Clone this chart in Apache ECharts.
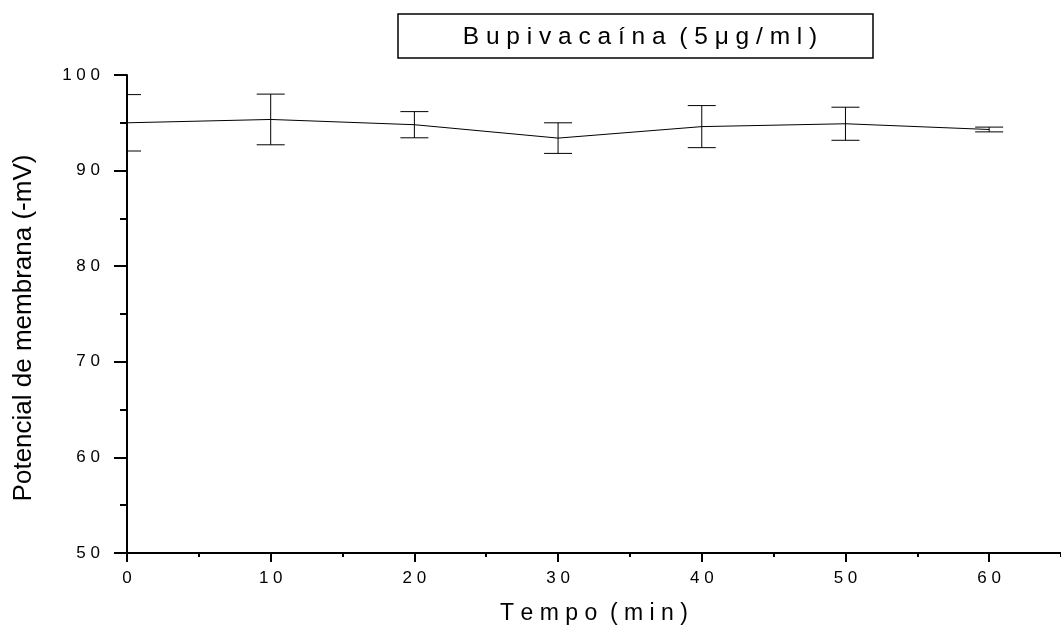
<!DOCTYPE html>
<html>
<head>
<meta charset="utf-8">
<title>Bupivacaína (5μg/ml)</title>
<script src="https://cdn.jsdelivr.net/npm/echarts@6/dist/echarts.min.js"></script>
<style>
  html, body { margin: 0; padding: 0; background: #fff; }
  #chart { width: 1061px; height: 631px; }
</style>
</head>
<body>
<div id="chart"></div>
<script>
// Membrane potential over time under bupivacaine (mean ± error)
const tempo = [0, 10, 20, 30, 40, 50, 60];
const potencial = [95.0, 95.35, 94.8, 93.4, 94.6, 94.9, 94.3];
const erro = [2.95, 2.65, 1.37, 1.6, 2.2, 1.73, 0.25];

const titulo = 'B u p i v a c a í n a  ( 5 μ g / m l )';
const tituloX = 'T e m p o  ( m i n )';
const tituloY = 'Potencial de membrana (-mV)';

const FONT = '"Liberation Sans", Arial, Helvetica, sans-serif';
const spaced = v => String(v).split('').join(' ');

const linePoints = tempo.map((t, i) => [t, potencial[i]]);
const barPoints = tempo.map((t, i) => [t, potencial[i] - erro[i], potencial[i] + erro[i]]);

const chart = echarts.init(document.getElementById('chart'));

const axisBlack = { lineStyle: { color: '#000', width: 2 } };

chart.setOption({
  backgroundColor: '#fff',
  animation: false,
  grid: { left: 127, right: -7, top: 75, bottom: 78, containLabel: false },
  graphic: [
    {
      type: 'rect',
      shape: { x: 398, y: 14, width: 475, height: 44 },
      style: { fill: '#fff', stroke: '#000', lineWidth: 1.5 }
    },
    {
      type: 'text',
      x: 640, y: 37,
      style: {
        text: titulo, font: '24.5px ' + FONT, fill: '#000',
        align: 'center', verticalAlign: 'middle'
      }
    }
  ],
  xAxis: [
    {
      type: 'value', min: 0, max: 65, interval: 10,
      name: tituloX, nameLocation: 'middle', nameGap: 49,
      nameTextStyle: { fontFamily: FONT, fontSize: 23, color: '#000' },
      axisLine: axisBlack,
      axisTick: { show: true, length: 9, lineStyle: { color: '#000', width: 2 } },
      axisLabel: {
        margin: 17, color: '#000', fontFamily: FONT, fontSize: 17,
        showMaxLabel: false, formatter: spaced
      },
      splitLine: { show: false }
    },
    {
      type: 'value', min: 0, max: 65, interval: 5, position: 'bottom',
      axisLine: { show: false },
      axisTick: { show: true, length: 4, lineStyle: { color: '#000', width: 2 } },
      axisLabel: { show: false },
      splitLine: { show: false }
    }
  ],
  yAxis: [
    {
      type: 'value', min: 50, max: 100, interval: 10,
      name: tituloY, nameLocation: 'middle', nameGap: 90, nameRotate: 90,
      nameTextStyle: { fontFamily: FONT, fontSize: 26, color: '#000', padding: [0, 28, 0, 0] },
      axisLine: axisBlack,
      axisTick: { show: true, length: 13, lineStyle: { color: '#000', width: 2 } },
      axisLabel: { margin: 27, color: '#000', fontFamily: FONT, fontSize: 17, formatter: spaced },
      splitLine: { show: false }
    },
    {
      type: 'value', min: 50, max: 100, interval: 5, position: 'left',
      axisLine: { show: false },
      axisTick: { show: true, length: 7, lineStyle: { color: '#000', width: 2 } },
      axisLabel: { show: false },
      splitLine: { show: false }
    }
  ],
  series: [
    {
      type: 'line',
      xAxisIndex: 0, yAxisIndex: 0,
      data: linePoints,
      showSymbol: false,
      lineStyle: { color: '#000', width: 1 },
      clip: true,
      z: 2
    },
    {
      type: 'custom',
      xAxisIndex: 0, yAxisIndex: 0,
      data: barPoints,
      clip: true,
      z: 3,
      renderItem: function (params, api) {
        const x = api.value(0);
        const lo = api.coord([x, api.value(1)]);
        const hi = api.coord([x, api.value(2)]);
        const half = 14;
        const style = { stroke: '#000', lineWidth: 1, fill: null };
        return {
          type: 'group',
          children: [
            { type: 'line', shape: { x1: lo[0], y1: lo[1], x2: hi[0], y2: hi[1] }, style },
            { type: 'line', shape: { x1: hi[0] - half, y1: hi[1], x2: hi[0] + half, y2: hi[1] }, style },
            { type: 'line', shape: { x1: lo[0] - half, y1: lo[1], x2: lo[0] + half, y2: lo[1] }, style }
          ]
        };
      }
    }
  ]
});
</script>
</body>
</html>
